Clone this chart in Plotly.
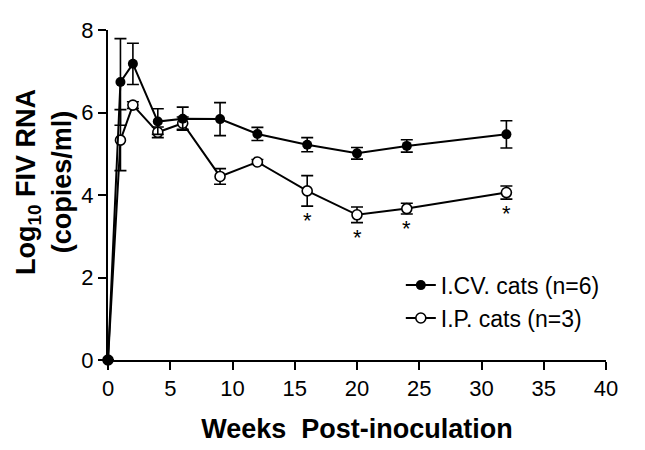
import plotly.graph_objects as go

# weeks post-inoculation
weeks = [0, 1, 2, 4, 6, 9, 12, 16, 20, 24, 32]

# I.CV. cats (n=6): log10 FIV RNA mean and SEM
icv_mean = [0, 6.74, 7.18, 5.78, 5.85, 5.84, 5.48, 5.22, 5.01, 5.19, 5.47]
icv_err = [0, 1.05, 0.50, 0.31, 0.28, 0.40, 0.16, 0.17, 0.14, 0.15, 0.33]

# I.P. cats (n=3)
ip_mean = [0, 5.33, 6.18, 5.52, 5.74, 4.45, 4.80, 4.10, 3.52, 3.67, 4.06]
ip_err = [0, 0.74, 0.08, 0.13, 0.15, 0.19, 0.06, 0.37, 0.19, 0.13, 0.16]

# weeks with significant difference
sig_weeks = [16, 20, 24, 32]

font = 'Liberation Sans, Arial, sans-serif'

ip = go.Scatter(x=weeks, y=ip_mean, name='I.P. cats (n=3)',
                mode='lines+markers', cliponaxis=False,
                line=dict(color='black', width=2),
                marker=dict(size=10, color='white', symbol='circle',
                            line=dict(color='black', width=1.6)),
                error_y=dict(type='data', array=ip_err, color='black',
                             thickness=1.6, width=6),
                legendrank=2)

icv = go.Scatter(x=weeks, y=icv_mean, name='I.CV. cats (n=6)',
                 mode='lines+markers', cliponaxis=False,
                 line=dict(color='black', width=2),
                 marker=dict(size=10, color='black', symbol='circle'),
                 error_y=dict(type='data', array=icv_err, color='black',
                              thickness=1.6, width=6),
                 legendrank=1)

annotations = []
for w in sig_weeks:
    i = weeks.index(w)
    annotations.append(dict(x=w, y=ip_mean[i] - ip_err[i],
                            xref='x', yref='y', text='*', showarrow=False,
                            yanchor='top', font=dict(size=22, color='black')))

# two-line y title, kept as an annotation so both lines can be placed
annotations.append(dict(x=-0.128, y=0.54, xref='paper', yref='paper',
                        text='<b>Log<sub>10</sub> FIV RNA<br>(copies/ml)</b>',
                        textangle=-90, showarrow=False, xanchor='center',
                        yanchor='middle', borderpad=0,
                        font=dict(size=27, color='black')))

# page body has an 8px margin, so the figure is 8px smaller than the window
layout = go.Layout(
    width=637, height=442,
    margin=dict(l=100, r=39, t=10, b=90),
    paper_bgcolor='white', plot_bgcolor='white',
    font=dict(family=font, color='black'),
    showlegend=True,
    legend=dict(x=0.588, y=0.292, xanchor='left', yanchor='top',
                bgcolor='rgba(0,0,0,0)', font=dict(size=23)),
    xaxis=dict(range=[0, 40], tickvals=[0, 5, 10, 15, 20, 25, 30, 35, 40],
               showgrid=False, zeroline=False, showline=True,
               linecolor='black', linewidth=2, ticks='outside', ticklen=8,
               tickwidth=2, tickcolor='black', tickfont=dict(size=22),
               ticklabeloverflow='allow',
               title=dict(text='<b>Weeks  Post-inoculation</b>',
                          font=dict(size=27), standoff=19)),
    yaxis=dict(range=[0, 8], tickvals=[0, 2, 4, 6, 8],
               showgrid=False, zeroline=False, showline=True,
               linecolor='black', linewidth=2, ticks='outside', ticklen=8,
               tickwidth=2, tickcolor='black', tickfont=dict(size=22),
               ticklabeloverflow='allow'),
    annotations=annotations,
)

fig = go.Figure(data=[ip, icv], layout=layout)
fig.write_html('out.html')
